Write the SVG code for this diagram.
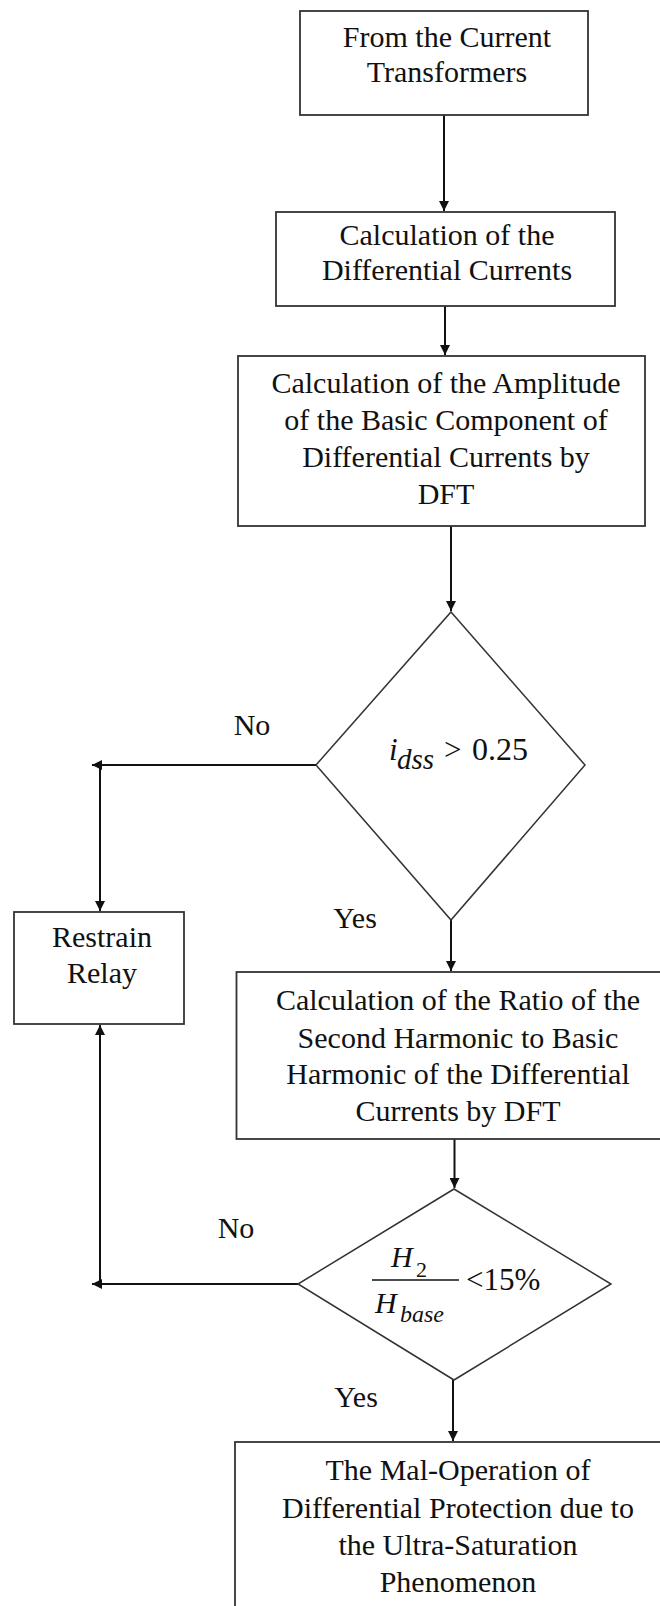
<svg xmlns="http://www.w3.org/2000/svg" width="660" height="1606" viewBox="0 0 660 1606">
<style>
.box{fill:#fff;stroke:#333;stroke-width:1.8}
.dia{fill:#fff;stroke:#333;stroke-width:1.5}
.t{font-family:"Liberation Serif","Times New Roman",serif;font-size:30px;fill:#111;text-anchor:middle}
.m{font-family:"Liberation Serif","Times New Roman",serif;fill:#111;font-style:italic}
.n{font-family:"Liberation Serif","Times New Roman",serif;fill:#111}
.c{fill:none;stroke:#111;stroke-width:2}
</style>
<defs>
<marker id="ah" viewBox="0 0 10 10" refX="10" refY="5" markerWidth="5" markerHeight="5" orient="auto" markerUnits="strokeWidth">
<path d="M0,0 L10,5 L0,10 z" fill="#111"/>
</marker>
</defs>
<rect width="660" height="1606" fill="#fff"/>
<g id="connectors">
<path class="c" d="M444,115 V211" marker-end="url(#ah)"/>
<path class="c" d="M445,306 V355" marker-end="url(#ah)"/>
<path class="c" d="M451,526 V611" marker-end="url(#ah)"/>
<path class="c" d="M316,765 H92" marker-end="url(#ah)"/>
<path class="c" d="M100,765 V911" marker-end="url(#ah)"/>
<path class="c" d="M451,920 V971" marker-end="url(#ah)"/>
<path class="c" d="M454.5,1139 V1188" marker-end="url(#ah)"/>
<path class="c" d="M298,1284 H92" marker-end="url(#ah)"/>
<path class="c" d="M100,1284 V1025" marker-end="url(#ah)"/>
<path class="c" d="M453,1380 V1441" marker-end="url(#ah)"/>
<text class="t" x="252" y="735">No</text>
<text class="t" x="355" y="928">Yes</text>
<text class="t" x="236" y="1238">No</text>
<text class="t" x="356" y="1407">Yes</text>
</g>
<g id="n1">
<rect class="box" x="300" y="11" width="288" height="104"/>
<text class="t" x="447" y="47">From the Current</text>
<text class="t" x="447" y="82">Transformers</text>
</g>
<g id="n2">
<rect class="box" x="276" y="212" width="339" height="94"/>
<text class="t" x="447" y="245">Calculation of the</text>
<text class="t" x="447" y="280">Differential Currents</text>
</g>
<g id="n3">
<rect class="box" x="238" y="356" width="407" height="170"/>
<text class="t" x="446" y="393">Calculation of the Amplitude</text>
<text class="t" x="446" y="430">of the Basic Component of</text>
<text class="t" x="446" y="467">Differential Currents by</text>
<text class="t" x="446" y="504">DFT</text>
</g>
<g id="d1">
<polygon class="dia" points="451,612 585,765 451,920 316,765"/>
<text class="m" x="389" y="760" font-size="31">i</text>
<text class="m" x="397" y="769" font-size="29">dss</text>
<text class="n" x="444" y="760" font-size="31">&gt;</text>
<text class="n" x="472" y="760" font-size="32">0.25</text>
</g>
<g id="n4">
<rect class="box" x="14" y="912" width="170" height="112"/>
<text class="t" x="102" y="947">Restrain</text>
<text class="t" x="102" y="983">Relay</text>
</g>
<g id="n5">
<rect class="box" x="236.5" y="972" width="445" height="167"/>
<text class="t" x="458" y="1010">Calculation of the Ratio of the</text>
<text class="t" x="458" y="1048">Second Harmonic  to Basic</text>
<text class="t" x="458" y="1084">Harmonic  of the Differential</text>
<text class="t" x="458" y="1121">Currents  by DFT</text>
</g>
<g id="d2">
<polygon class="dia" points="454,1189 611,1284 454,1380 298,1284"/>
<text class="m" x="391" y="1267" font-size="30">H</text>
<text class="n" x="416" y="1277" font-size="22">2</text>
<line x1="372" y1="1280" x2="459" y2="1280" stroke="#111" stroke-width="1.5"/>
<text class="m" x="375" y="1313" font-size="30">H</text>
<text class="m" x="400" y="1322" font-size="24">base</text>
<text class="n" x="466" y="1290" font-size="31">&lt;15%</text>
</g>
<g id="n6">
<rect class="box" x="235" y="1442" width="446" height="170"/>
<text class="t" x="458" y="1480">The Mal-Operation of</text>
<text class="t" x="458" y="1518">Differential Protection due to</text>
<text class="t" x="458" y="1555">the Ultra-Saturation</text>
<text class="t" x="458" y="1592">Phenomenon</text>
</g>
</svg>
